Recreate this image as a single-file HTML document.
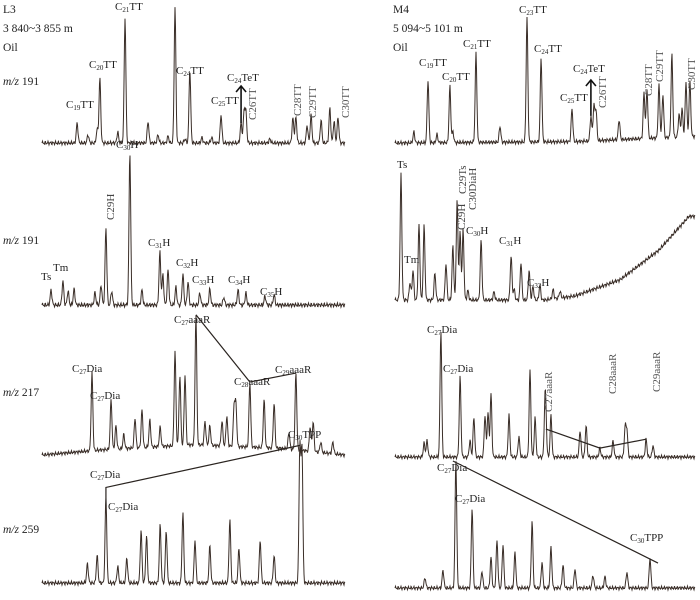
<!DOCTYPE html>
<html><head><meta charset="utf-8"><style>
html,body{margin:0;padding:0;background:#fff}
svg{display:block;font-family:"Liberation Serif",serif}
</style></head><body>
<svg id="fig" width="700" height="600" viewBox="0 0 700 600" xmlns="http://www.w3.org/2000/svg"></svg>
<script>
// ---- data: each panel has retention times (0-100), intensities (0-100), baseline
const rtA=[11.6,15.2,18.2,19.1,25,27.4,35,38.3,41.6,43.9,47.2,48.8,52.8,56,59.1,65.7,66.7,67.3,75.2,82.8,83.8,87.5,88.8,92.1,95,96.4,97.7];
const vA=[14.7,6,10,47.8,8,91.9,16,6,5,100,3,53.7,4,4,20.6,14.7,22.8,22,3,18.4,19,13,20.6,16.9,25.7,16,19];
const rtB=[6.3,14,11,18.3,19.3,27,35,44,48.7,59,65.3,66.3,67,74.7,83,84,88,89.3,92.3,94.7,95.7,97,98.3];
const vB=[8,6,46.3,41.2,8,65.4,11.8,91.9,61.8,24.3,18.4,25.7,23,14.7,33.8,36,39,31.6,61,17,20.6,40.4,40.4];
const rtC=[3,6.9,8.6,10.6,17.5,19.5,21.1,23,29,33,38.9,39.9,41.6,44.2,46.5,48.2,52.1,55.4,60,64.7,67.3,73.6,76.6];
const vC=[9.7,15.5,9,10.3,8,13,49.7,9,98.7,9.7,34.2,19.4,22.6,11.6,20,14.8,7.7,10.3,5,9.7,7.7,5.8,6.5];
const rtD=[2,5,6,8,9.7,13.3,17,19.3,20.7,21.7,22.7,24.3,28.7,33,38.7,39.7,42,44.7,46,48.3,52.7,55];
const vD=[93,13,22,56,55,20,27,40,74,50,52,7,44.4,6,33,8,28,22,10,11,7,5];
const baseRtD=[0,50,60,75,88,98,100];
const baseVD=[0,0,3,15,37,62,62];
const rtE=[16.5,22.8,24.4,27,30.7,33,35.6,39,43.9,45.5,47.2,50.8,53.8,55.4,59.4,61,63.4,64,68.6,73.3,76.6,81.5,83.8,88.5,89.5,92,96];
const vE=[60,38.5,18,11,23,29,21,15,73,54,54,100,18,15,19,23,31,31.5,50,37,34.6,13,59,19,23,8,9];
const baseRtE=[0,20,50,80,100];
const baseVE=[0,4,8,5,0];
const rtF=[9.7,10.7,15.3,21.7,25,26.3,30,31,32,38,41.3,45,46.7,50,50.3,52,61.7,63.7,68.3,72.7,76.7,77.3,83.7,86];
const vF=[11,13,100,63,13,31.5,33,35.4,50,33,16,68.5,30.7,38.6,22,33,21,25,7,13,23,21,14,9];
const rtG=[18.2,15,21.1,25,28,32.7,34.5,39,41,46.5,50.5,55.4,62,65,72,76.6,85.1,85.8];
const vG=[20,14,62,12,18,38,34,42,38,51,31,27,45.7,25,31,20,99,98];
const rtH=[10,16,20.3,25.7,29,32,34,36,40,45.7,49,52,56,60,66,70,77.3,85];
const vH=[8,14,100,62.5,13,24,37.5,34,28,51.6,20,32,18,15,10,9,12.5,23.4];

const NS="http://www.w3.org/2000/svg";
const svg=document.getElementById('fig');
function mk(tag,attrs,parent){const e=document.createElementNS(NS,tag);for(const k in attrs)e.setAttribute(k,attrs[k]);(parent||svg).appendChild(e);return e;}
function interp(xs,ys,x){if(!xs)return 0;for(let i=1;i<xs.length;i++){if(x<=xs[i]){const t=(x-xs[i-1])/(xs[i]-xs[i-1]);return ys[i-1]+t*(ys[i]-ys[i-1]);}}return ys[ys.length-1];}
function panel(name,x0,w,base,hpx,rts,vs,bRt,bV){
  const xS=rt=>x0+rt*w/100;
  const yS=v=>base-v*hpx/100;
  const sig=0.28;
  let d="";
  for(let px=0;px<=w;px+=0.5){
    const rt=px*100/w;
    let v=interp(bRt,bV,rt);
    for(let i=0;i<rts.length;i++){const dx=(rt-rts[i])/sig;if(Math.abs(dx)<5)v+=vs[i]*Math.exp(-dx*dx/2);}
    v+=0.9*Math.sin(rt*7.3)+0.6*Math.sin(rt*13.1);
    d+=(px===0?"M":"L")+xS(rt).toFixed(2)+","+yS(v).toFixed(2);
  }
  const p=mk('path',{d:d,fill:'none',stroke:'#3a2e28','stroke-width':'1'});
  
  
  return {xS,yS,rts,vs,bRt,bV};
}
function peakTop(P,i,off){return [P.xS(P.rts[i]),P.yS(P.vs[i]+interp(P.bRt,P.bV,P.rts[i]))-(off||0)];}
function label(x,y,pre,sub,post,rot,name,col){
  const t=mk('text',{x:x,y:y,'font-size':'11',fill:col||'#222'});
  if(rot)t.setAttribute('transform','rotate(-90 '+x+' '+y+')');
  
  
  t.appendChild(document.createTextNode(pre));
  if(sub){const s=mk('tspan',{'font-size':'7',dy:'2'},t);s.textContent=sub;const r=mk('tspan',{dy:'-2'},t);r.textContent=post;}
  return t;
}
function plain(x,y,txt,name,italic){
  const t=mk('text',{x:x,y:y,'font-size':'11.5',fill:'#222'});
  
  
  if(italic){const s=mk('tspan',{'font-style':'italic'},t);s.textContent='m/z';const r=mk('tspan',{},t);r.textContent=' '+txt;}
  else t.textContent=txt;
}
function drawLine(pts,name){
  const l=mk('polyline',{points:pts.map(p=>p.join(',')).join(' '),fill:'none',stroke:'#2a2420','stroke-width':'1.2'});
  
  
}
function drawArrow(x,y1,y2,name){
  const g=mk('g',{stroke:'#111','stroke-width':'1.6',fill:'none'});
  
  
  mk('line',{x1:x,y1:y1,x2:x,y2:y2},g);
  mk('polyline',{points:(x-5)+','+(y2+6)+' '+x+','+y2+' '+(x+5)+','+(y2+6)},g);
}

// headers
plain(3,13,'L3','well-name-l3');plain(3,32,'3 840~3 855 m','depth-l3');plain(3,51,'Oil','sample-type-l3');
plain(393,13,'M4','well-name-m4');plain(393,32,'5 094~5 101 m','depth-m4');plain(393,51,'Oil','sample-type-m4');
plain(3,85,'191','mz191-label-top',true);plain(3,244,'191','mz191-label-mid',true);
plain(3,396,'217','mz217-label',true);plain(3,533,'259','mz259-label',true);

// top panels
const PA=panel('trace-l3-mz191-terpanes',42,303,143,136,rtA,vA);
label(66,108,'C','19','TT',0,'label-c19tt');label(89,68,'C','20','TT',0,'label-c20tt');
label(115,10,'C','21','TT',0,'label-c21tt');label(176,74,'C','24','TT',0,'label-c24tt');
label(211,104,'C','25','TT',0,'label-c25tt');label(227,81,'C','24','TeT',0,'label-c24tet');
drawArrow(peakTop(PA,15)[0],peakTop(PA,15)[1],86,'arrow-c24tet');
label(256,120,'C26TT','','',1,'label-c26tt','#555');label(301,116,'C28TT','','',1,'label-c28tt','#555');
label(316,118,'C29TT','','',1,'label-c29tt','#555');label(349,118,'C30TT','','',1,'label-c30tt','#555');

const PB=panel('trace-m4-mz191-terpanes',395,300,143,136,rtB,vB,[0,60,100],[0,1,5]);
label(419,66,'C','19','TT',0,'label-c19tt-m4');label(442,80,'C','20','TT',0,'label-c20tt-m4');
label(463,47,'C','21','TT',0,'label-c21tt-m4');label(519,13,'C','23','TT',0,'label-c23tt-m4');
label(534,52,'C','24','TT',0,'label-c24tt-m4');label(560,101,'C','25','TT',0,'label-c25tt-m4');
label(573,72,'C','24','TeT',0,'label-c24tet-m4');
drawArrow(peakTop(PB,10)[0],peakTop(PB,10)[1],80,'arrow-c24tet-m4');
label(606,108,'C26TT','','',1,'label-c26tt-m4','#555');label(652,96,'C28TT','','',1,'label-c28tt-m4','#555');
label(663,82,'C29TT','','',1,'label-c29tt-m4','#555');label(695,90,'C30TT','','',1,'label-c30tt-m4','#555');

// middle panels (hopanes)
const PC=panel('trace-l3-mz191-hopanes',42,303,305,155,rtC,vC);
label(41,280,'Ts','','',0,'label-ts');label(53,271,'Tm','','',0,'label-tm');
label(114,220,'C29H','','',1,'label-c29h','#444');label(116,148,'C','30','H',0,'label-c30h');
label(148,246,'C','31','H',0,'label-c31h');label(176,266,'C','32','H',0,'label-c32h');
label(192,283,'C','33','H',0,'label-c33h');label(228,283,'C','34','H',0,'label-c34h');
label(260,295,'C','35','H',0,'label-c35h');

const PD=panel('trace-m4-mz191-hopanes',395,300,300,135,rtD,vD,baseRtD,baseVD);
label(397,168,'Ts','','',0,'label-ts-m4');label(404,263,'Tm','','',0,'label-tm-m4');
label(465,230,'C29H','','',1,'label-c29h-m4','#444');label(466,194,'C29Ts','','',1,'label-c29ts-m4','#444');
label(476,210,'C30DiaH','','',1,'label-c30diah-m4','#444');
label(466,234,'C','30','H',0,'label-c30h-m4');label(499,244,'C','31','H',0,'label-c31h-m4');
label(527,286,'C','32','H',0,'label-c32h-m4');

// steranes m/z 217
const PE=panel('trace-l3-mz217-steranes',42,303,455,130,rtE,vE,baseRtE,baseVE);
label(72,372,'C','27','Dia',0,'label-c27dia-1');label(90,399,'C','27','Dia',0,'label-c27dia-2');
label(174,323,'C','27','aaaR',0,'label-c27aaar');label(234,385,'C','28','aaaR',0,'label-c28aaar');
label(275,373,'C','29','aaaR',0,'label-c29aaar');
drawLine([peakTop(PE,11),peakTop(PE,18),peakTop(PE,22)],'sterane-triangle-l3');

const PF=panel('trace-m4-mz217-steranes',395,300,457,127,rtF,vF);
label(427,333,'C','27','Dia',0,'label-c27dia-1-m4');label(443,372,'C','27','Dia',0,'label-c27dia-2-m4');
label(552,412,'C27aaaR','','',1,'label-c27aaar-m4','#555');label(616,394,'C28aaaR','','',1,'label-c28aaar-m4','#555');
label(660,392,'C29aaaR','','',1,'label-c29aaar-m4','#555');
drawLine([peakTop(PF,14),peakTop(PF,18),peakTop(PF,22)],'sterane-triangle-m4');

// m/z 259
const PG=panel('trace-l3-mz259',42,303,583,138,rtG,vG);
label(90,478,'C','27','Dia',0,'label-c27dia-259-1');label(108,510,'C','27','Dia',0,'label-c27dia-259-2');
label(288,438,'C','30','TPP',0,'label-c30tpp');
drawLine([[peakTop(PG,2)[0],peakTop(PG,2)[1]+9],[peakTop(PG,2)[0],peakTop(PG,2)[1]-10],peakTop(PG,16,1)],'tpp-line-l3');

const PH=panel('trace-m4-mz259',395,300,588,128,rtH,vH);
label(437,471,'C','27','Dia',0,'label-c27dia-259-1-m4');label(455,502,'C','27','Dia',0,'label-c27dia-259-2-m4');
label(630,541,'C','30','TPP',0,'label-c30tpp-m4');
const t1=peakTop(PH,2),t2=peakTop(PH,17);
drawLine([[t1[0]-3,t1[1]+1],[t2[0]+8,t2[1]+5]],'tpp-line-m4');
</script>
</body></html>
